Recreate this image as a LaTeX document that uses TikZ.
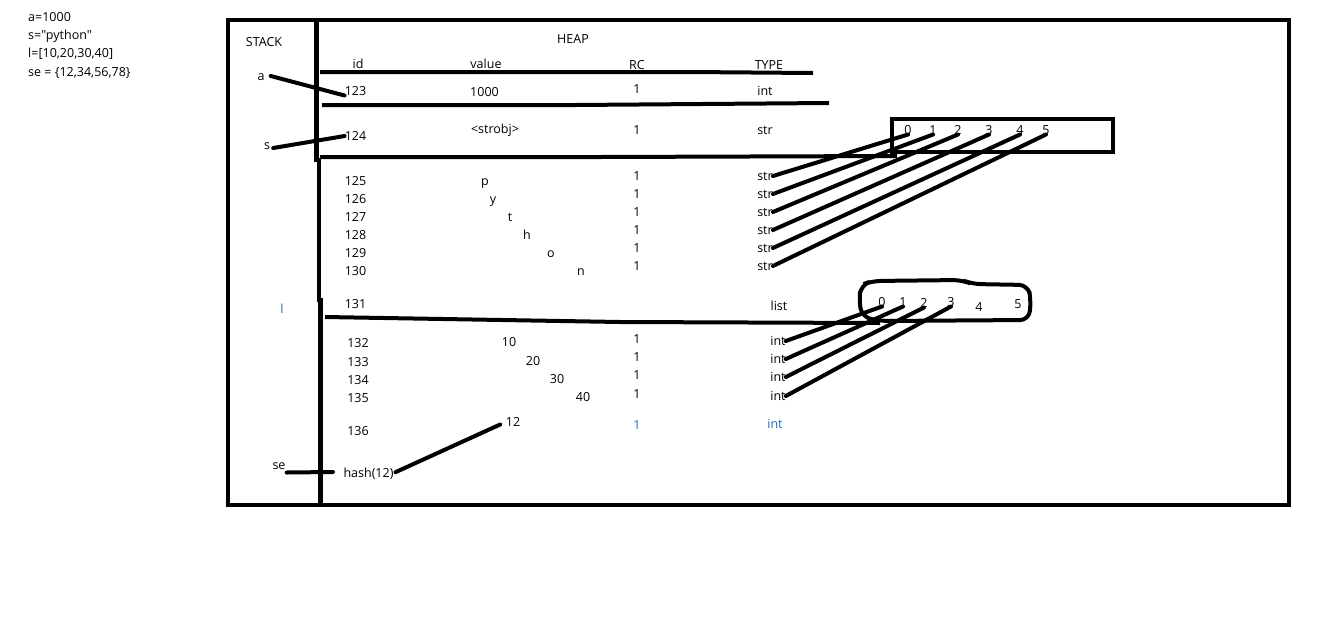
\documentclass[tikz,border=0pt]{standalone}
\usepackage{fontspec}
\setmainfont{Open Sans}
\newfontfamily\srcfont{Open Sans}
\definecolor{lblue}{HTML}{1F6BB5}
\tikzset{lbl/.style={inner sep=0pt, text height=8.6pt, text depth=0pt, font=\fontsize{12.5}{14}\selectfont}}
\tikzset{code/.style={lbl, anchor=west, font=\srcfont\fontsize{12.5}{14}\selectfont}}
\tikzset{wall/.style={line width=4.5pt}}
\tikzset{rule/.style={line width=4pt}}
\tikzset{link/.style={line width=4pt, line cap=round}}

\begin{document}
\begin{tikzpicture}[x=1pt,y=-1pt]
    \useasboundingbox[fill=white] (0,0) rectangle (1344,619);
    % the python source
    \node[code] at (28,17) (src1) {a=1000};
    \node[code] at (28,35) (src2) {s="python"};
    \node[code] at (28,53) (src3) {l=[10,20,30,40]};
    \node[code] at (28,72) (src4) {se = \{12,34,56,78\}};
    % frame
    \draw[wall] (228,20) rectangle (1289,505);
    \draw[wall] (316.5,20) -- (316.5,160) -- (319,160) -- (319,300) -- (320.5,300) -- (320.5,505);
    \node[lbl] at (264,42) (stack) {STACK};
    \node[lbl] at (573,39) (heap) {HEAP};
    % header
    \node[lbl] at (358,64) (hid) {id};
    \node[lbl] at (486,64) (hval) {value};
    \node[lbl] at (637,65) (hrc) {RC};
    \node[lbl] at (769,65) (htype) {TYPE};
    \draw[rule] (320,72) -- (690,72) -- (813,73);
    % a
    \node[lbl] at (261,76) (a) {a};
    \node[lbl] at (355.5,91) (id123) {123};
    \node[lbl] at (484.5,92) (v123) {1000};
    \node[lbl] at (637,89) (rc123) {1};
    \node[lbl] at (765,91) (ty123) {int};
    \draw[rule] (322,105) -- (575,105) -- (829,103);
    % s
    \node[lbl] at (267,145) (s) {s};
    \node[lbl] at (355.5,136) (id124) {124};
    \node[lbl] at (495,129) (v124) {<strobj>};
    \node[lbl] at (637,130) (rc124) {1};
    \node[lbl] at (765,130) (ty124) {str};
    \draw[rule] (320,157) -- (600,157) -- (897,156);
    \draw[rule] (892,119) rectangle (1113,152);
    \foreach \k/\x in {0/908, 1/933, 2/958, 3/989, 4/1020, 5/1046}
        \node[lbl] at (\x,130) (ch\k) {\k};
    \foreach \i/\y/\c/\cx/\ry in {125/181/p/485/176, 126/199/y/493/194, 127/217/t/510/212,
                                 128/235/h/527/230, 129/253/o/551/248, 130/271/n/581/266} {
        \node[lbl] at (355.5,\y) (id\i) {\i};
        \node[lbl] at (\cx,\y) (v\i) {\c};
        \node[lbl] at (637,\ry) (rc\i) {1};
        \node[lbl] at (765,\ry) (ty\i) {str};
    }
    % l
    \node[lbl, text=lblue] at (282,309) (l) {l};
    \node[lbl] at (355.5,304) (id131) {131};
    \node[lbl] at (779,306) (ty131) {list};
    \draw[rule] (325,317) -- (620,322) -- (880,323);
    \draw[rule, rounded corners=9pt] (880,321) -- (862,317) -- (859,300) -- (861,285) -- (872,281)
        -- (962,280) -- (972,284) -- (1028,285) -- (1031,300) -- (1029,320) -- cycle;
    \foreach \k/\x/\y in {0/882/302, 1/903/302, 2/924/303, 3/951/302, 4/979/307, 5/1018/304}
        \node[lbl] at (\x,\y) (li\k) {\k};
    \foreach \i/\y/\val/\vx/\vy/\ty in {132/343/10/509/342/341, 133/362/20/533/361/359,
                                       134/380/30/557/379/377, 135/398/40/583/397/396} {
        \node[lbl] at (358,\y) (id\i) {\i};
        \node[lbl] at (\vx,\vy) (v\i) {\val};
        \node[lbl] at (637,\ty-2) (rc\i) {1};
        \node[lbl] at (778,\ty) (ty\i) {int};
    }
    % se
    \node[lbl] at (358,431) (id136) {136};
    \node[lbl] at (513,422) (v136) {12};
    \node[lbl, text=lblue] at (637,425) (rc136) {1};
    \node[lbl, text=lblue] at (775,424) (ty136) {int};
    \node[lbl] at (279,465) (se) {se};
    \node[lbl] at (368.5,473) (hash) {hash(12)};
    \coordinate (sestub) at (333,472);
    % pointers
    \draw[link] (a.east) ++(6,0) -- (id123.south west);
    \draw[link] (s.east) ++(3,3) -- (id124.west);
    \draw[link] (se.south east) ++(1,3) -- (sestub);
    \draw[link, shorten <=2pt, shorten >=6pt] (hash.east) -- (v136.west);
    \foreach \i/\k in {125/0, 126/1, 127/2, 128/3, 129/4, 130/5}
        \draw[link] (ty\i.east) -- (ch\k.south);
    \foreach \i/\k in {132/0, 133/1, 134/2, 135/3}
        \draw[link] (ty\i.east) -- (li\k.south);
\end{tikzpicture}
\end{document}
